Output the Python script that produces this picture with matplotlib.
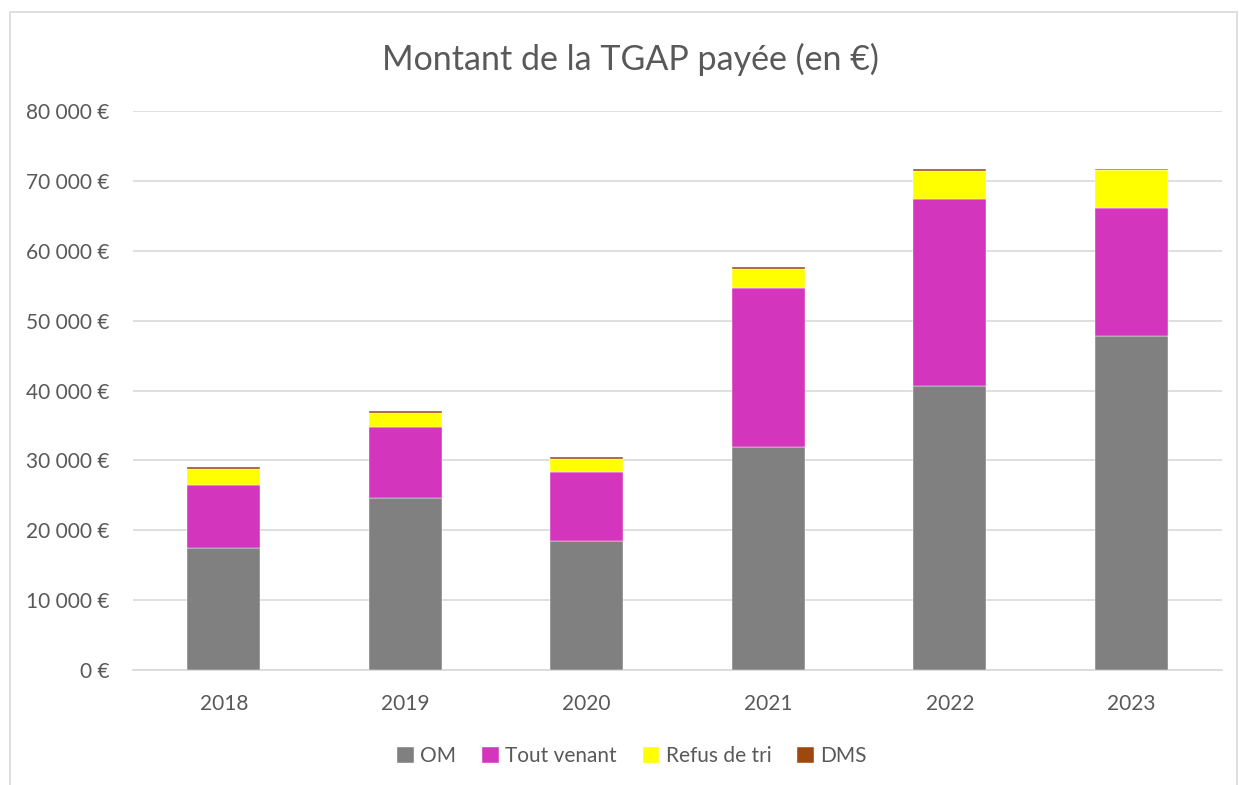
import matplotlib
matplotlib.use("Agg")
import matplotlib.pyplot as plt
from matplotlib.patches import Rectangle
from matplotlib.ticker import FuncFormatter
import numpy as np

years = ["2018", "2019", "2020", "2021", "2022", "2023"]
om = [17400, 24550, 18480, 31980, 40600, 47800]
tout_venant = [9050, 10170, 9930, 22630, 26880, 18390]
refus_tri = [2390, 2050, 1860, 2820, 4000, 5430]
dms = [200, 250, 250, 280, 200, 150]

series = [
    ("OM", om, "#808080"),
    ("Tout venant", tout_venant, "#D335BC"),
    ("Refus de tri", refus_tri, "#FFFF00"),
    ("DMS", dms, "#9E480E"),
]

plt.rcParams['font.family'] = ['Lato', 'DejaVu Sans']
text_color = "#595959"

fig = plt.figure(figsize=(12.39, 7.85), dpi=100)
ax = fig.add_axes([0.1073, 0.1465, 0.879, 0.712])

# chart area border
fig.patches.append(Rectangle((10 / 1239, -0.01), 1227 / 1239, 1 - 12 / 785 + 0.01,
                             transform=fig.transFigure, fill=False,
                             edgecolor="#D9D9D9", linewidth=1.2))

x = np.arange(len(years))
bottom = np.zeros(len(years))
for name, vals, color in series:
    ax.bar(x, vals, 0.4, bottom=bottom, color=color, label=name,
           edgecolor="white", linewidth=0.3, zorder=3)
    bottom += np.array(vals)

ax.set_xlim(-0.5, len(years) - 0.5)
ax.set_ylim(0, 80000)
ax.set_yticks(np.arange(0, 80001, 10000))
ax.yaxis.set_major_formatter(FuncFormatter(
    lambda v, p: "{:,.0f} €".format(v).replace(",", " ")))
ax.set_xticks(x)
ax.set_xticklabels(years)
ax.grid(axis="y", color="#D9D9D9", linewidth=1.2, zorder=0)
ax.tick_params(axis="both", length=0, labelsize=15, colors=text_color)
ax.tick_params(axis="y", pad=17)
ax.tick_params(axis="x", pad=17)
for s in ["top", "right", "left"]:
    ax.spines[s].set_visible(False)
ax.spines["bottom"].set_color("#D9D9D9")
ax.spines["bottom"].set_linewidth(1.2)

fig.text(0.509, 0.924, "Montant de la TGAP payée (en €)", ha="center", va="center",
         fontsize=24.5, color=text_color)

fig.legend(loc="center", bbox_to_anchor=(0.51, 0.037), ncol=4, frameon=False,
           fontsize=15, handlelength=0.8, handleheight=0.8, handletextpad=0.3,
           columnspacing=1.25, labelcolor=text_color)

fig.savefig("out.png", dpi=100)
